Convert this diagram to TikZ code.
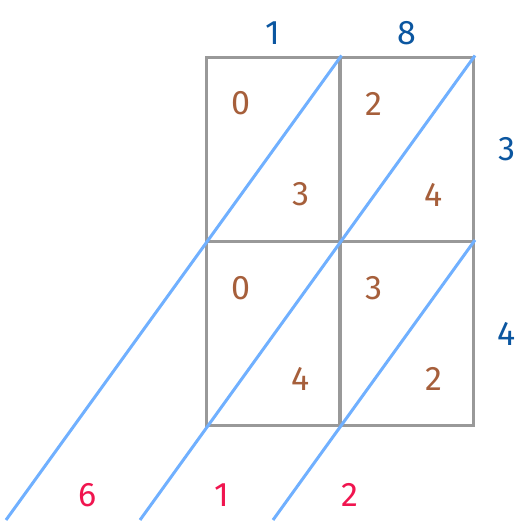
\documentclass[tikz,border=0pt]{standalone}
\usepackage{fontspec}
\setmainfont{Fira Sans}
\definecolor{gridgray}{HTML}{999999}
\definecolor{diagblue}{HTML}{70B0FF}
\definecolor{factorblue}{HTML}{0B56A0}
\definecolor{partbrown}{HTML}{A65F3B}
\definecolor{sumred}{HTML}{F0154F}
\tikzset{%
  every cell/.style={
    draw=gridgray,
    line width=3pt,
    minimum width=134pt,
    minimum height=184pt,
    inner sep=0pt
  },
  diagonal/.style={
    draw=diagblue,
    line width=3pt
  },
  digit/.style={
    font=\fontsize{34}{40}\selectfont,
    inner sep=0pt
  },
}
\begin{document}
\begin{tikzpicture}[x=1pt, y=-1pt]
\useasboundingbox (0,0) rectangle (529,520);

% cells of the lattice
\foreach \r/\yc in {1/149, 2/333.5}
  \foreach \c/\xc in {1/273, 2/406.5}
    \node [every cell] (cell-\r-\c) at (\xc,\yc) {};

% factors
\foreach \l [count=\c] in {1,8}
  \node [digit, text=factorblue] (top-\c) at ([yshift=22pt]cell-1-\c.north) {\l};
\foreach \l [count=\r] in {3,4}
  \node [digit, text=factorblue] (right-\r) at ([xshift=32pt]cell-\r-2.east) {\l};

% partial products, tens and units
\foreach \r/\c/\t/\u in {1/1/0/3, 1/2/2/4, 2/1/0/4, 2/2/3/2} {
  \node [digit, text=partbrown] (tens-\r-\c) at ([xshift=36pt,yshift=-48pt]cell-\r-\c.north west) {\t};
  \node [digit, text=partbrown] (units-\r-\c) at ([xshift=96pt,yshift=-139pt]cell-\r-\c.north west) {\u};
}

% diagonals
\coordinate (end-1) at (6,520);
\coordinate (end-2) at (140,520);
\coordinate (end-3) at (273,520);
\draw [diagonal] (cell-1-1.north east) -- (end-1);
\draw [diagonal] (cell-1-2.north east) -- (end-2);
\draw [diagonal] (cell-2-2.north east) -- (end-3);

% result
\foreach \l/\x [count=\i] in {6/88, 1/222, 2/350}
  \node [digit, text=sumred] (result-\i) at (\x,495) {\l};

\end{tikzpicture}
\end{document}
